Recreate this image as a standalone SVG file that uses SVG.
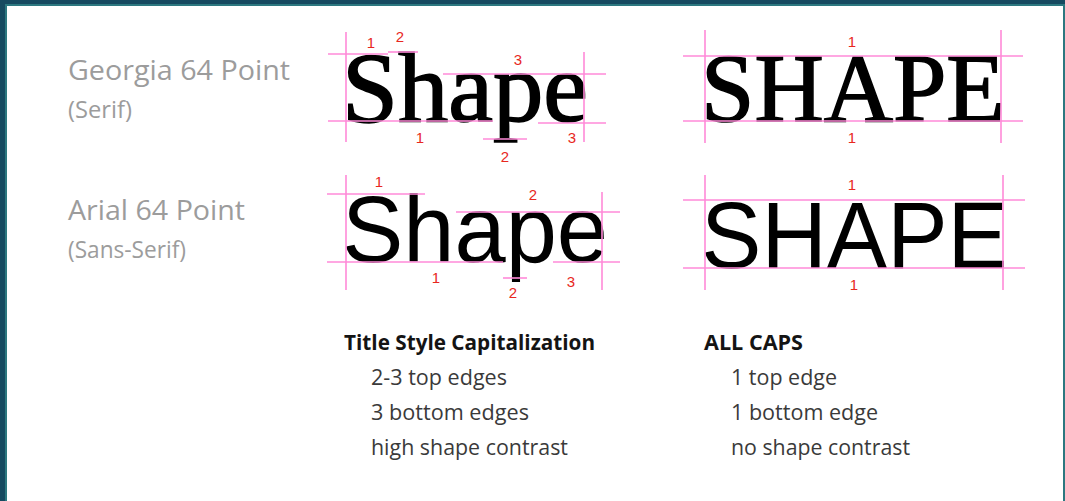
<svg xmlns="http://www.w3.org/2000/svg" width="1065" height="501" viewBox="0 0 1065 501">
  <style>
    .guide { stroke: #ff8ad8; stroke-width: 1.6; fill: none; }
    .num { font-family: "Liberation Sans", Arial, sans-serif; font-size: 15px; fill: #e8281e; text-anchor: middle; }
    .lbl { font-family: "Open Sans", "Noto Sans", sans-serif; fill: #9c9c9c; }
    .serif { font-family: "Liberation Serif", "Times New Roman", serif; fill: #000; stroke: #000; stroke-width: 1.6; }
    .sans { font-family: "Liberation Sans", Arial, sans-serif; fill: #000; }
    .head { font-family: "Open Sans", "Noto Sans", sans-serif; font-weight: bold; font-size: 21px; fill: #141414; }
    .body { font-family: "Open Sans", "Noto Sans", sans-serif; font-size: 21px; fill: #3a3a3a; }
  </style>
  <rect x="0" y="0" width="1065" height="501" fill="#164a60"/>
  <rect x="5" y="4" width="1060" height="497" fill="#2c7880"/>
  <rect x="7" y="6" width="1056" height="495" fill="#ffffff"/>

  <g id="labels">
    <text class="lbl" x="68" y="80" font-size="28" textLength="222" lengthAdjust="spacingAndGlyphs">Georgia 64 Point</text>
    <text class="lbl" x="68" y="118" font-size="24" textLength="64" lengthAdjust="spacingAndGlyphs">(Serif)</text>
    <text class="lbl" x="68" y="220" font-size="28" textLength="177" lengthAdjust="spacingAndGlyphs">Arial 64 Point</text>
    <text class="lbl" x="68" y="258" font-size="24" textLength="118" lengthAdjust="spacingAndGlyphs">(Sans-Serif)</text>
  </g>

  <g id="georgia-title">
    <text class="serif" x="342" y="121" font-size="100" textLength="246" lengthAdjust="spacingAndGlyphs">Shape</text>
    <g class="guide">
      <line x1="346" y1="32" x2="346" y2="142"/>
      <line x1="584" y1="52" x2="584" y2="142"/>
      <line x1="328" y1="54" x2="388" y2="54"/>
      <line x1="388" y1="52" x2="418" y2="52"/>
      <line x1="443" y1="74" x2="606" y2="74"/>
      <line x1="328" y1="121" x2="493" y2="121"/>
      <line x1="483" y1="139" x2="527" y2="139"/>
      <line x1="538" y1="123" x2="606" y2="123"/>
    </g>
    <text class="num" x="371" y="48">1</text>
    <text class="num" x="400" y="42">2</text>
    <text class="num" x="518" y="65">3</text>
    <text class="num" x="420" y="143">1</text>
    <text class="num" x="505" y="162">2</text>
    <text class="num" x="572" y="143">3</text>
  </g>

  <g id="georgia-caps">
    <text class="serif" x="701" y="121" font-size="98" textLength="304" lengthAdjust="spacingAndGlyphs">SHAPE</text>
    <g class="guide">
      <line x1="705" y1="30" x2="705" y2="143"/>
      <line x1="1001" y1="30" x2="1001" y2="143"/>
      <line x1="683" y1="56" x2="1023" y2="56"/>
      <line x1="683" y1="121" x2="1023" y2="121"/>
    </g>
    <text class="num" x="852" y="47">1</text>
    <text class="num" x="852" y="143">1</text>
  </g>

  <g id="arial-title">
    <text class="sans" x="342" y="262" font-size="94" textLength="266" lengthAdjust="spacingAndGlyphs">Shape</text>
    <g class="guide">
      <line x1="346" y1="175" x2="346" y2="290"/>
      <line x1="602" y1="192" x2="602" y2="290"/>
      <line x1="327" y1="194" x2="425" y2="194"/>
      <line x1="456" y1="212" x2="620" y2="212"/>
      <line x1="327" y1="262" x2="503" y2="262"/>
      <line x1="503" y1="278" x2="527" y2="278"/>
      <line x1="553" y1="262" x2="620" y2="262"/>
    </g>
    <text class="num" x="379" y="187">1</text>
    <text class="num" x="533" y="200">2</text>
    <text class="num" x="436" y="283">1</text>
    <text class="num" x="513" y="298">2</text>
    <text class="num" x="571" y="287">3</text>
  </g>

  <g id="arial-caps">
    <text class="sans" x="701" y="268" font-size="95" textLength="307" lengthAdjust="spacingAndGlyphs">SHAPE</text>
    <g class="guide">
      <line x1="705" y1="175" x2="705" y2="290"/>
      <line x1="1003" y1="175" x2="1003" y2="290"/>
      <line x1="683" y1="200" x2="1025" y2="200"/>
      <line x1="683" y1="268" x2="1025" y2="268"/>
    </g>
    <text class="num" x="852" y="190">1</text>
    <text class="num" x="854" y="290">1</text>
  </g>

  <g id="title-style-notes">
    <text class="head" x="344" y="350" textLength="251" lengthAdjust="spacingAndGlyphs">Title Style Capitalization</text>
    <text class="body" x="371" y="385" textLength="136" lengthAdjust="spacingAndGlyphs">2-3 top edges</text>
    <text class="body" x="371" y="420" textLength="158" lengthAdjust="spacingAndGlyphs">3 bottom edges</text>
    <text class="body" x="371" y="455" textLength="197" lengthAdjust="spacingAndGlyphs">high shape contrast</text>
  </g>

  <g id="all-caps-notes">
    <text class="head" x="704" y="350" textLength="99" lengthAdjust="spacingAndGlyphs">ALL CAPS</text>
    <text class="body" x="731" y="385" textLength="106" lengthAdjust="spacingAndGlyphs">1 top edge</text>
    <text class="body" x="731" y="420" textLength="147" lengthAdjust="spacingAndGlyphs">1 bottom edge</text>
    <text class="body" x="731" y="455" textLength="179" lengthAdjust="spacingAndGlyphs">no shape contrast</text>
  </g>
</svg>
